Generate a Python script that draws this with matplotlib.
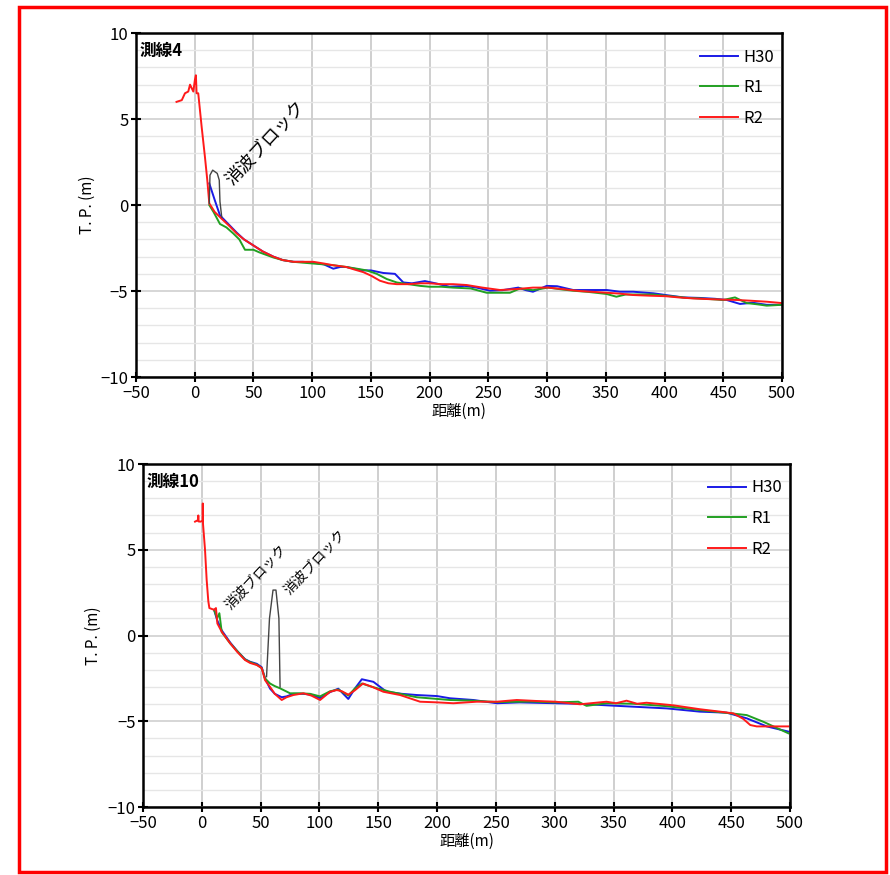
import matplotlib
matplotlib.use('Agg')
import matplotlib.pyplot as plt
from matplotlib.patches import Rectangle
from matplotlib.ticker import MultipleLocator

plt.rcParams['font.family'] = ['Noto Sans CJK JP', 'DejaVu Sans']

# ---- 測線4 ----
l4_h30_x = [12.4, 17, 21.5, 30, 35.7, 42, 50, 58, 67, 75, 84, 92, 101, 110, 118, 124, 129, 136, 143.5, 150,
            160.6, 170.5, 177.6, 185, 196, 205, 217, 230, 240, 251.4, 262, 275.5, 282, 288, 299.7, 308.6, 322.3,
            336.5, 351, 362, 373.4, 390.5, 403, 416, 430, 443, 453, 464.3, 475, 487, 500]
l4_h30_y = [1.26, 0.3, -0.6, -1.2, -1.6, -2.0, -2.35, -2.7, -3.0, -3.2, -3.3, -3.3, -3.35, -3.45, -3.7, -3.6,
            -3.6, -3.7, -3.8, -3.8, -3.95, -4.0, -4.5, -4.55, -4.42, -4.55, -4.75, -4.7, -4.8, -4.98, -4.95, -4.8,
            -4.95, -5.04, -4.7, -4.72, -4.94, -4.94, -4.94, -5.04, -5.04, -5.13, -5.25, -5.37, -5.4, -5.45, -5.52,
            -5.75, -5.68, -5.8, -5.8]
l4_r1_x = [12.4, 16, 21.5, 27, 32.8, 38, 42.8, 50, 55, 61, 67, 75, 84, 92, 101, 110, 118, 129, 138, 146.4,
           155, 163.5, 172, 182, 192, 200, 210, 220, 235, 248.6, 258, 268.4, 277, 288, 301, 312, 322, 335, 350.7,
           359, 367, 378, 390, 405, 420, 435, 450, 460, 470, 480, 487, 500]
l4_r1_y = [0.0, -0.4, -1.1, -1.3, -1.65, -2.0, -2.6, -2.6, -2.75, -2.9, -3.05, -3.2, -3.3, -3.35, -3.4, -3.45,
           -3.5, -3.6, -3.7, -3.8, -4.0, -4.3, -4.5, -4.6, -4.7, -4.75, -4.75, -4.8, -4.85, -5.1, -5.1, -5.1,
           -4.85, -4.95, -4.8, -4.9, -4.98, -5.05, -5.17, -5.33, -5.2, -5.2, -5.2, -5.3, -5.4, -5.45, -5.52,
           -5.37, -5.7, -5.78, -5.85, -5.8]
l4_r2_x = [-15.5, -11, -8.3, -5.5, -4, -1.2, 0.2, 1, 1.6, 3, 5.9, 8.7, 10.7, 12.4, 17, 23, 30, 35.7, 42, 50,
           58, 67, 75, 84, 92, 101, 110, 118, 129, 136, 143.5, 150, 157.7, 165, 172, 182, 192, 200, 210, 220,
           231.6, 245, 260, 275, 288, 301, 315, 328, 340, 351, 362, 373, 387, 401, 412, 424.5, 438, 450.6, 462,
           472.8, 487, 500]
l4_r2_y = [6.0, 6.1, 6.5, 6.6, 7.0, 6.6, 7.3, 7.55, 6.5, 6.5, 4.55, 2.8, 1.45, 0.1, -0.4, -0.8, -1.25, -1.65,
           -2.0, -2.35, -2.7, -3.0, -3.2, -3.3, -3.3, -3.3, -3.4, -3.5, -3.6, -3.75, -3.9, -4.1, -4.4, -4.55,
           -4.6, -4.6, -4.55, -4.55, -4.6, -4.6, -4.65, -4.8, -4.94, -4.88, -4.8, -4.8, -4.9, -5.0, -5.05, -5.1,
           -5.15, -5.23, -5.27, -5.3, -5.37, -5.43, -5.47, -5.5, -5.52, -5.56, -5.62, -5.7]
l4_block_x = [12.4, 13, 15.3, 19.2, 20.9, 21.5, 23]
l4_block_y = [0.1, 1.74, 2.03, 1.84, 1.45, 0.2, -0.7]

# ---- 測線10 ----
l10_h30_x = [10.4, 13, 16.9, 24, 30, 36.7, 41, 46.7, 50.9, 53.7, 58, 62, 67.9, 72, 77.8, 86.3, 93, 100.5, 109,
             116, 124.5, 130, 136, 145.8, 157, 170, 182.7, 199.8, 211, 230.8, 250.7, 270, 300.8, 320, 344, 366.8,
             395.2, 423.5, 446.2, 463.2, 480.2, 498.5]
l10_h30_y = [1.5, 0.9, 0.3, -0.4, -0.9, -1.38, -1.53, -1.65, -1.85, -2.5, -3.1, -3.4, -3.6, -3.55, -3.4, -3.4,
             -3.45, -3.65, -3.3, -3.1, -3.7, -3.1, -2.55, -2.7, -3.28, -3.4, -3.47, -3.53, -3.66, -3.76, -3.95,
             -3.9, -3.95, -3.98, -4.07, -4.15, -4.25, -4.44, -4.5, -4.83, -5.3, -5.6]
l10_r1_x = [10.4, 13, 14.9, 16.9, 24, 30, 36.7, 41, 46.7, 50.9, 53.7, 58, 62, 66.5, 75, 83.5, 92, 100.5, 109,
            116, 124.5, 130, 136, 145, 160, 182.7, 211, 230, 250.7, 280, 300.8, 320, 327, 344, 366.8, 395.2,
            423.5, 450, 463.2, 477.3, 498.5]
l10_r1_y = [1.5, 1.0, 1.3, 0.2, -0.45, -0.9, -1.4, -1.55, -1.7, -1.9, -2.5, -2.8, -2.95, -3.08, -3.37, -3.37,
            -3.4, -3.55, -3.25, -3.15, -3.5, -3.1, -2.8, -3.0, -3.28, -3.6, -3.76, -3.8, -3.88, -3.85, -3.9,
            -3.86, -4.1, -3.95, -3.98, -4.12, -4.35, -4.54, -4.64, -5.03, -5.7]
l10_r2_x = [-5.8, -3.2, -3.0, -2.8, -1.0, 0.6, 0.8, 1.0, 2.7, 4.1, 5.5, 6.4, 10.4, 12, 13.2, 16.9, 24, 30, 36.7,
            41, 46.7, 50.9, 53.7, 58, 62, 67.9, 72, 77.8, 86.3, 93, 100.5, 109, 114.7, 119, 124.5, 130, 137, 145,
            154.3, 168.5, 185.5, 200.5, 213.8, 233.6, 250.7, 267.7, 285, 300.8, 321.5, 335, 344, 352, 361, 370,
            378, 400.8, 423.5, 440.5, 451.8, 460, 466.2, 471.7, 483, 498.5]
l10_r2_y = [6.64, 6.73, 7.0, 6.65, 6.64, 6.7, 7.7, 6.5, 5.0, 3.24, 2.0, 1.6, 1.5, 1.6, 0.7, 0.22, -0.45, -0.95,
            -1.43, -1.6, -1.72, -1.9, -2.6, -3.0, -3.4, -3.76, -3.6, -3.47, -3.37, -3.5, -3.76, -3.28, -3.18,
            -3.25, -3.45, -3.2, -2.8, -3.0, -3.28, -3.47, -3.86, -3.9, -3.95, -3.86, -3.86, -3.76, -3.82, -3.86,
            -4.01, -3.92, -3.86, -3.95, -3.8, -3.98, -3.92, -4.07, -4.3, -4.44, -4.54, -4.85, -5.22, -5.3, -5.3,
            -5.3]
l10_block_x = [55, 57.5, 60.5, 63, 65.5, 66.5]
l10_block_y = [-2.4, 1.0, 2.65, 2.65, 1.0, -3.0]

series_names = ['H30', 'R1', 'R2']
series_colors = ['#1a1ae6', '#22a022', '#ff1a1a']


def draw_panel(ax, title, lines, block, notes, ylab_x):
    for (x, y), name, col in zip(lines, series_names, series_colors):
        ax.plot(x, y, color=col, lw=1.4, label=name)
    for bx, by in block:
        ax.plot(bx, by, color='#444444', lw=1.0)
    for tx, ty, fs in notes:
        ax.text(tx, ty, '消波ブロック', rotation=47, fontsize=fs, ha='center', va='center',
                rotation_mode='anchor')

    ax.set_xlim(-50, 500)
    ax.set_ylim(-10, 10)
    ax.xaxis.set_major_locator(MultipleLocator(50))
    ax.yaxis.set_major_locator(MultipleLocator(5))
    ax.yaxis.set_minor_locator(MultipleLocator(1))
    ax.grid(which='major', axis='x', color='#cccccc', lw=1.3)
    ax.grid(which='major', axis='y', color='#d0d0d0', lw=1.2)
    ax.grid(which='minor', axis='y', color='#e6e6e6', lw=1.0)
    ax.set_axisbelow(True)
    for s in ax.spines.values():
        s.set_linewidth(1.8)
        s.set_color('black')
    ax.tick_params(which='major', direction='inout', length=7, width=1.5, labelsize=12, pad=2)
    ax.tick_params(which='minor', length=0)
    ax.set_xlabel('距離(m)', fontsize=11, labelpad=1)
    ax.set_ylabel('T. P. (m)', fontsize=11)
    ax.yaxis.set_label_coords(ylab_x, 0.5)
    ax.text(0.006, 0.975, title, transform=ax.transAxes, fontsize=12, fontweight='bold',
            ha='left', va='top')
    ax.legend(loc='upper left', bbox_to_anchor=(0.873, 0.955), frameon=False, fontsize=12,
              handlelength=2.3, labelspacing=0.82, handletextpad=0.3, borderpad=0,
              borderaxespad=0)


fig = plt.figure(figsize=(8.9, 8.75), dpi=100)
ax1 = fig.add_axes([0.1528, 0.5691, 0.7258, 0.3931])
ax2 = fig.add_axes([0.1607, 0.0777, 0.7270, 0.3920])

draw_panel(ax1, '測線4',
           [(l4_h30_x, l4_h30_y), (l4_r1_x, l4_r1_y), (l4_r2_x, l4_r2_y)],
           [(l4_block_x, l4_block_y)],
           [(60, 3.6, 13)], -0.062)
draw_panel(ax2, '測線10',
           [(l10_h30_x, l10_h30_y), (l10_r1_x, l10_r1_y), (l10_r2_x, l10_r2_y)],
           [(l10_block_x, l10_block_y)],
           [(46, 3.4, 10), (96, 4.3, 10)], -0.064)

# red frame around the whole figure
fig.patches.append(Rectangle((0.0213, 0.0034), 0.9742, 0.9886, transform=fig.transFigure,
                             fill=False, edgecolor='#ff0000', lw=2.5))

fig.savefig('out.png', dpi=100)
